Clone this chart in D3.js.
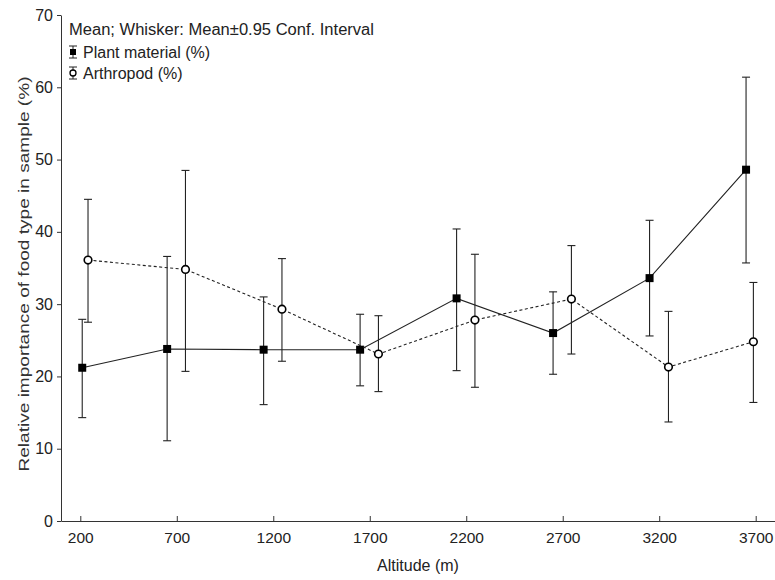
<!DOCTYPE html>
<html>
<head>
<meta charset="utf-8">
<script src="https://cdn.jsdelivr.net/npm/d3@7"></script>
<style>
  body { margin: 0; background: #fff; }
  svg { display: block; font-family: "Liberation Sans", Arial, sans-serif; }
  .axis path, .axis line { stroke: #333; }
  .axis text { fill: #222; }
</style>
</head>
<body>
<div id="chart"></div>
<script>
// altitude ticks (m)
const altitudes = [200, 700, 1200, 1700, 2200, 2700, 3200, 3700];
const yTicks = [0, 10, 20, 30, 40, 50, 60, 70];

// Plant material (%): plotted position, mean, CI low, CI high
const plantX = [210, 650, 1150, 1650, 2150, 2650, 3150, 3650];
const plantMean = [21.2, 23.8, 23.7, 23.7, 30.8, 26.0, 33.6, 48.6];
const plantLow = [14.3, 11.1, 16.1, 18.7, 20.8, 20.3, 25.6, 35.7];
const plantHigh = [27.9, 36.6, 31.0, 28.6, 40.4, 31.7, 41.6, 61.4];

// Arthropod (%)
const arthroX = [240, 745, 1245, 1745, 2245, 2745, 3248, 3688];
const arthroMean = [36.1, 34.8, 29.3, 23.1, 27.8, 30.7, 21.3, 24.8];
const arthroLow = [27.5, 20.7, 22.1, 17.9, 18.5, 23.1, 13.7, 16.4];
const arthroHigh = [44.5, 48.5, 36.3, 28.4, 36.9, 38.1, 29.0, 33.0];

const width = 775, height = 580;
const svg = d3.select('#chart').append('svg').attr('width', width).attr('height', height);

const x = d3.scaleLinear().domain([100, 3800]).range([61, 775]);
const y = d3.scaleLinear().domain([0, 70]).range([521, 15]);

// axes
svg.append('g').attr('class', 'axis').attr('transform', 'translate(0,521)')
  .call(d3.axisBottom(x).tickValues(altitudes).tickFormat(d3.format('d')).tickSize(-5).tickPadding(11).tickSizeOuter(0))
  .call((g) => g.selectAll('text').attr('font-size', 15.5));
svg.append('g').attr('class', 'axis').attr('transform', 'translate(61,0)')
  .call(d3.axisLeft(y).tickValues(yTicks).tickSize(4).tickPadding(4).tickSizeOuter(0))
  .call((g) => g.selectAll('text').attr('font-size', 16));

svg.append('text').attr('x', 418).attr('y', 571).attr('text-anchor', 'middle')
  .attr('font-size', 16).attr('fill', '#222').text('Altitude (m)');
svg.append('text').attr('transform', 'translate(29,274) rotate(-90)').attr('text-anchor', 'middle')
  .attr('font-size', 15).attr('textLength', 395).attr('lengthAdjust', 'spacingAndGlyphs')
  .attr('fill', '#333').text('Relative importance of food type in sample (%)');

const series = [
  { xs: plantX, mean: plantMean, low: plantLow, high: plantHigh, dash: null, marker: 'square' },
  { xs: arthroX, mean: arthroMean, low: arthroLow, high: arthroHigh, dash: '3,2.5', marker: 'circle' }
];

series.forEach((s) => {
  const rows = s.xs.map((xv, i) => ({ x: xv, mean: s.mean[i], low: s.low[i], high: s.high[i] }));
  const g = svg.append('g');

  g.append('path').datum(rows)
    .attr('fill', 'none').attr('stroke', '#222').attr('stroke-width', 1.1)
    .attr('stroke-dasharray', s.dash)
    .attr('d', d3.line().x((d) => x(d.x)).y((d) => y(d.mean)));

  const bars = g.selectAll('.whisker').data(rows).enter().append('g').attr('class', 'whisker');
  bars.append('line').attr('x1', (d) => x(d.x)).attr('x2', (d) => x(d.x))
    .attr('y1', (d) => y(d.low)).attr('y2', (d) => y(d.high)).attr('stroke', '#222').attr('stroke-width', 1.1);
  ['low', 'high'].forEach((k) => {
    bars.append('line').attr('x1', (d) => x(d.x) - 4).attr('x2', (d) => x(d.x) + 4)
      .attr('y1', (d) => y(d[k])).attr('y2', (d) => y(d[k])).attr('stroke', '#222').attr('stroke-width', 1.1);
  });

  if (s.marker === 'square') {
    g.selectAll('.pt').data(rows).enter().append('rect')
      .attr('x', (d) => x(d.x) - 4).attr('y', (d) => y(d.mean) - 4)
      .attr('width', 8).attr('height', 8).attr('fill', '#000');
  } else {
    g.selectAll('.pt').data(rows).enter().append('circle')
      .attr('cx', (d) => x(d.x)).attr('cy', (d) => y(d.mean)).attr('r', 3.8)
      .attr('fill', '#fff').attr('stroke', '#000').attr('stroke-width', 1.6);
  }
});

// legend
const legend = svg.append('g').attr('font-size', 16).attr('fill', '#222');
legend.append('text').attr('x', 69).attr('y', 35).attr('textLength', 305).attr('lengthAdjust', 'spacingAndGlyphs')
  .text('Mean; Whisker: Mean\u00b10.95 Conf. Interval');
const items = [{ label: 'Plant material (%)', marker: 'square' }, { label: 'Arthropod (%)', marker: 'circle' }];
items.forEach((item, i) => {
  const cy = 52 + i * 21;
  const lg = legend.append('g');
  lg.append('line').attr('x1', 73).attr('x2', 73).attr('y1', cy - 6).attr('y2', cy + 6).attr('stroke', '#222');
  lg.append('line').attr('x1', 69).attr('x2', 77).attr('y1', cy - 6).attr('y2', cy - 6).attr('stroke', '#222');
  lg.append('line').attr('x1', 69).attr('x2', 77).attr('y1', cy + 6).attr('y2', cy + 6).attr('stroke', '#222');
  if (item.marker === 'square') {
    lg.append('rect').attr('x', 70).attr('y', cy - 3).attr('width', 6).attr('height', 6).attr('fill', '#000');
  } else {
    lg.append('circle').attr('cx', 73).attr('cy', cy).attr('r', 3).attr('fill', '#fff').attr('stroke', '#000').attr('stroke-width', 1.3);
  }
  lg.append('text').attr('x', 83).attr('y', cy + 6).text(item.label);
});
</script>
</body>
</html>
